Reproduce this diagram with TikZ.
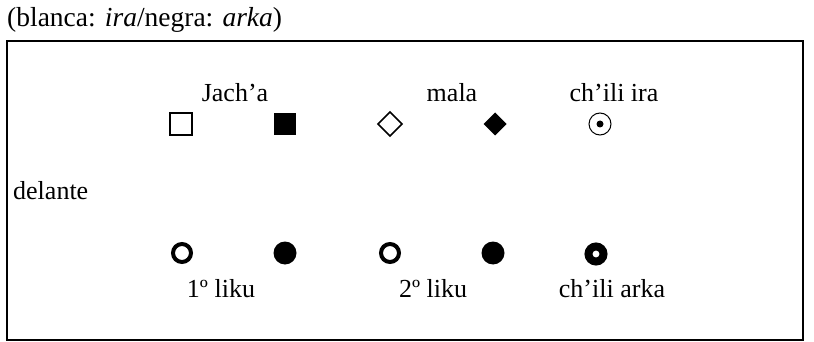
\documentclass[tikz,border=0pt]{standalone}
\usepackage{fontspec}
\setmainfont{Liberation Serif}
\tikzset{
  lbl/.style={anchor=base,inner sep=0pt,font=\fontsize{26}{30}\selectfont},
  ring/.style={line width=4pt},
}
\begin{document}
\begin{tikzpicture}[x=1pt,y=1pt,yscale=-1,xscale=1]
\useasboundingbox (0,0) rectangle (814,342);

%Shape: Rectangle [frame]
\draw [line width=2pt] (7,41) rectangle (803,340);

% Text Node
\node (titulo) [anchor=base west,inner sep=0pt,font=\fontsize{27.5}{32}\selectfont] at (7,27) {(blanca: \textit{ira}/negra: \textit{arka})};

%Shape: Square [jach'a ira]
\draw [line width=1.5pt] (170,113) rectangle (192,135);
%Shape: Square [jach'a arka]
\fill (274,113) rectangle (296,135);
%Shape: Diamond [mala ira]
\draw [line width=1.5pt] (390,112) -- (402,124) -- (390,136) -- (378,124) -- cycle;
%Shape: Diamond [mala arka]
\fill (495,112.5) -- (506.5,124) -- (495,135.5) -- (483.5,124) -- cycle;
%Shape: Circle [ch'ili ira]
\draw [line width=1pt] (600,124) circle (11);
\fill (600,124) circle (3.5);

%Shape: Circle [1 liku ira]
\draw [ring] (182,253) circle (9);
%Shape: Circle [1 liku arka]
\fill (285,253) circle (11.5);
%Shape: Circle [2 liku ira]
\draw [ring] (390,253) circle (9);
%Shape: Circle [2 liku arka]
\fill (493,253) circle (11.5);
%Shape: Circle [ch'ili arka]
\draw [line width=8pt] (596,254) circle (7.5);

% Text Node
\node (jacha) [lbl] at (235,102) {Jach’a};
% Text Node
\node (mala) [lbl] at (452,102) {mala};
% Text Node
\node (chiliira) [lbl] at (614,102) {ch’ili ira};
% Text Node
\node (delante) [lbl,anchor=base west] at (13,199) {delante};
% Text Node
\node (liku1) [lbl] at (221,297) {1º liku};
% Text Node
\node (liku2) [lbl] at (433,297) {2º liku};
% Text Node
\node (chiliarka) [lbl] at (612,297) {ch’ili arka};

\end{tikzpicture}
\end{document}
